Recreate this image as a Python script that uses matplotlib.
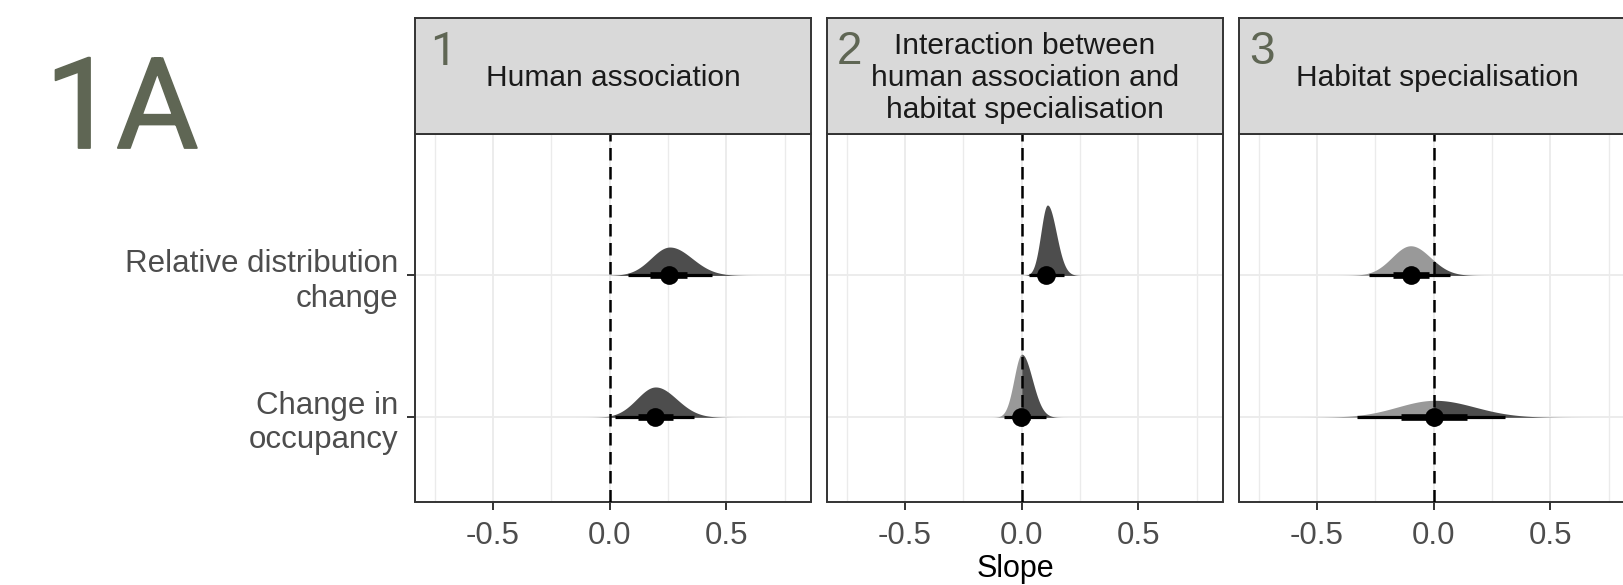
import numpy as np
import matplotlib
matplotlib.use("Agg")
import matplotlib.pyplot as plt
import matplotlib.patheffects as pe

# ---------------- data ----------------
panel_titles = ["Human association",
                "Interaction between\nhuman association and\nhabitat specialisation",
                "Habitat specialisation"]
panel_numbers = ["1", "2", "3"]
responses = ["Change in occupancy", "Relative distribution change"]
response_labels = ["Change in\noccupancy", "Relative distribution\nchange"]

# per panel: [Change in occupancy, Relative distribution change]
medians = [[0.196, 0.255], [-0.003, 0.103], [0.0, -0.099]]
int66_lo = [[0.119, 0.174], [-0.035, 0.070], [-0.139, -0.174]]
int66_hi = [[0.271, 0.331], [0.035, 0.140], [0.143, -0.020]]
int95_lo = [[0.021, 0.079], [-0.074, 0.029], [-0.329, -0.277]]
int95_hi = [[0.360, 0.439], [0.103, 0.179], [0.307, 0.071]]
dens_mode = [[0.196, 0.257], [0.0, 0.110], [0.005, -0.099]]
dens_sd_left = [[0.080, 0.080], [0.033, 0.028], [0.160, 0.080]]
dens_sd_right = [[0.090, 0.095], [0.045, 0.038], [0.170, 0.085]]
dens_height = [[0.214, 0.200], [0.445, 0.496], [0.120, 0.209]]

x_ticks = [-0.5, 0.0, 0.5]
x_tick_labels = ["-0.5", "0.0", "0.5"]
x_minor = [-0.75, -0.25, 0.25, 0.75]
x_limits = (-0.834, 0.862)
y_limits = (0.407, 3.0)

# ---------------- style ----------------
W, H = 1624, 585
DARK = "#4D4D4D"
LIGHT = "#999999"
OLIVE = "#5F6654"
GRID = "#EBEBEB"
BORDER = "#333333"
FONT = ["Liberation Sans", "DejaVu Sans"]

fig = plt.figure(figsize=(W / 100, H / 100), dpi=100)
fig.patch.set_facecolor("white")


def fx(px):
    return px / W


def fy(py):
    return 1 - py / H


panel_left = [415, 827, 1239]
panel_w = 396
panel_top, panel_bottom = 133.5, 501.5
strip_top = 17.7
num_offset = [15, 10, 10]

for i in range(3):
    ax = fig.add_axes([fx(panel_left[i]), fy(panel_bottom), panel_w / W,
                       (panel_bottom - panel_top) / H])
    ax.set_xlim(*x_limits)
    ax.set_ylim(*y_limits)
    ax.set_facecolor("white")
    for xv in x_minor:
        ax.axvline(xv, color=GRID, lw=1.0, zorder=0)
    for xv in x_ticks:
        ax.axvline(xv, color=GRID, lw=1.3, zorder=0)
    for yv in [1, 2]:
        ax.axhline(yv, color=GRID, lw=1.3, zorder=0)

    for j in range(2):
        y0 = j + 1
        m = dens_mode[i][j]
        sl, sr = dens_sd_left[i][j], dens_sd_right[i][j]
        xs = np.linspace(m - 4.5 * sl, m + 4.5 * sr, 800)
        xs = np.sort(np.append(xs, 0.0))
        sd = np.where(xs < m, sl, sr)
        dens = dens_height[i][j] * np.exp(-0.5 * ((xs - m) / sd) ** 2)
        ax.fill_between(xs, y0, y0 + dens, where=xs <= 0, color=LIGHT,
                        lw=0, zorder=2)
        ax.fill_between(xs, y0, y0 + dens, where=xs >= 0, color=DARK,
                        lw=0, zorder=2)
        ax.plot([int95_lo[i][j], int95_hi[i][j]], [y0, y0], color="black",
                lw=2.3, solid_capstyle="butt", zorder=3)
        ax.plot([int66_lo[i][j], int66_hi[i][j]], [y0, y0], color="black",
                lw=4.8, solid_capstyle="butt", zorder=3)
        ax.plot([medians[i][j]], [y0], "o", color="black", ms=13.5,
                mec="none", zorder=4)

    ax.axvline(0, color="black", lw=1.8, ls=(0, (5, 2.6)), zorder=5)

    ax.set_xticks(x_ticks)
    ax.set_xticklabels(x_tick_labels, family=FONT, fontsize=22.5,
                       color=DARK)
    ax.set_xticks(x_minor, minor=True)
    ax.tick_params(axis="x", which="minor", length=0)
    ax.tick_params(axis="x", which="major", length=6, width=1.4,
                   color=BORDER, pad=8)
    ax.set_yticks([1, 2])
    if i == 0:
        ax.set_yticklabels(response_labels, family=FONT, fontsize=22.5,
                           color=DARK, linespacing=1.2)
        ax.tick_params(axis="y", length=6, width=1.4, color=BORDER, pad=6)
    else:
        ax.set_yticklabels([])
        ax.tick_params(axis="y", length=0)
    for sp in ax.spines.values():
        sp.set_color(BORDER)
        sp.set_linewidth(1.4)

    # strip
    sax = fig.add_axes([fx(panel_left[i]), fy(panel_top), panel_w / W,
                        (panel_top - strip_top) / H])
    sax.set_facecolor("#D9D9D9")
    sax.set_xticks([])
    sax.set_yticks([])
    for sp in sax.spines.values():
        sp.set_color(BORDER)
        sp.set_linewidth(1.4)
    sax.text(0.5, 0.48, panel_titles[i], transform=sax.transAxes,
             ha="center", va="center", family=FONT, fontsize=21.5,
             color="#1A1A1A", linespacing=1.17)
    num_font = ["Roboto", "DejaVu Sans"] if i == 0 else FONT
    sax.text(num_offset[i] / panel_w, 1 - 12 / (panel_top - strip_top),
             panel_numbers[i], transform=sax.transAxes, ha="left", va="top",
             family=num_font, fontsize=33, color=OLIVE)

fig.text(fx(1015), fy(569), "Slope", ha="center", va="center",
         family=FONT, fontsize=22, color="black")
fig.text(fx(45), fy(148), "1A", ha="left", va="baseline",
         family=["Roboto", "DejaVu Sans"], fontsize=91, color=OLIVE,
         path_effects=[pe.withStroke(linewidth=1.3, foreground=OLIVE)])

fig.savefig("out.png", dpi=100, facecolor="white")
